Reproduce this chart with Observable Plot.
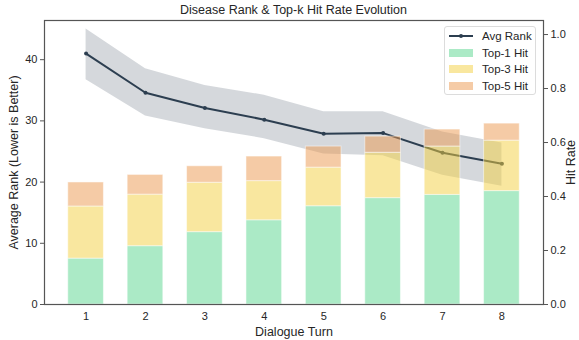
<!DOCTYPE html>
<html>
<head>
<meta charset="utf-8">
<script src="https://cdn.jsdelivr.net/npm/d3@7"></script>
<script src="https://cdn.jsdelivr.net/npm/@observablehq/plot@0.6"></script>
<style>
  html, body { margin: 0; padding: 0; background: #fff; }
  #wrap { position: relative; width: 579px; height: 340px; font-family: "Liberation Sans", Arial, sans-serif; color: #262626; }
  #title { position: absolute; left: 44px; width: 499px; top: 3px; text-align: center; font-size: 12.5px; }
  #legend { position: absolute; left: 444px; top: 26px; width: 92px; height: 69px; border: 1px solid #dcdcdc; border-radius: 3px; background: rgba(255,255,255,0.85); box-sizing: border-box; }
  .item { position: absolute; left: 4px; height: 16px; display: flex; align-items: center; font-size: 11.5px; }
  .sw { width: 24px; height: 8px; margin-right: 9px; }
</style>
</head>
<body>
<div id="wrap">
  <div id="chart"></div>
  <div id="title">Disease Rank &amp; Top-k Hit Rate Evolution</div>
  <div id="legend"></div>
</div>
<script>
const turns = [1, 2, 3, 4, 5, 6, 7, 8];
const avgRank = [41.0, 34.6, 32.1, 30.2, 27.9, 28.0, 24.8, 23.0];
const rankUpper = [45.0, 38.5, 35.8, 34.2, 31.5, 31.5, 28.2, 26.4];
const rankLower = [36.7, 30.8, 28.7, 27.1, 24.6, 24.3, 21.1, 19.3];
const top1 = [0.170, 0.216, 0.268, 0.312, 0.364, 0.394, 0.406, 0.420];
const top3 = [0.363, 0.407, 0.451, 0.457, 0.507, 0.562, 0.585, 0.607];
const top5 = [0.452, 0.480, 0.512, 0.548, 0.585, 0.622, 0.648, 0.670];
const rankTicks = [0, 10, 20, 30, 40];
const rateTicks = [0, 0.2, 0.4, 0.6, 0.8, 1.0];
const seriesNames = ["Top-1 Hit", "Top-3 Hit", "Top-5 Hit"];
const seriesColors = ["#58d68d", "#f4d03f", "#eb984e"];
const lineColor = "#2c3e50";

const rankMax = 46.4, rateMax = 1.052;
const k = rankMax / rateMax;

const lineData = turns.map((t, i) => ({turn: t, rank: avgRank[i], hi: rankUpper[i], lo: rankLower[i]}));
const barData = [];
turns.forEach((t, i) => {
  const vals = [top1[i], top3[i], top5[i]];
  vals.forEach((v, j) => {
    barData.push({turn: t, series: seriesNames[j], lo: j === 0 ? 0 : vals[j - 1], hi: v, color: seriesColors[j]});
  });
});

const plot = Plot.plot({
  width: 579,
  height: 340,
  marginLeft: 44,
  marginRight: 36,
  marginTop: 20,
  marginBottom: 36,
  style: {fontFamily: "Liberation Sans, Arial, sans-serif", fontSize: "11px", color: "#262626", background: "white"},
  x: {type: "linear", domain: [0.3, 8.7]},
  y: {domain: [0, rankMax]},
  marks: [
    Plot.areaY(lineData, {x: "turn", y1: "lo", y2: "hi", fill: lineColor, fillOpacity: 0.2}),
    Plot.line(lineData, {x: "turn", y: "rank", stroke: lineColor, strokeWidth: 2}),
    Plot.dot(lineData, {x: "turn", y: "rank", r: 2, fill: lineColor, stroke: "none"}),
    Plot.rect(barData, {
      x1: d => d.turn - 0.3, x2: d => d.turn + 0.3,
      y1: d => d.lo * k, y2: d => d.hi * k,
      fill: d => d.color, fillOpacity: 0.5,
      stroke: "white", strokeOpacity: 0.5, strokeWidth: 1
    }),
    Plot.frame({stroke: "#555", strokeWidth: 1.2}),
    Plot.axisY({ticks: rankTicks, tickSize: 4, tickPadding: 3, stroke: "#555",
      label: "Average Rank (Lower is Better)", labelAnchor: "center", labelArrow: "none", labelOffset: 35}),
    Plot.axisY({anchor: "right", ticks: rateTicks.map(t => t * k), tickFormat: d => (d / k).toFixed(1),
      tickSize: 4, tickPadding: 3, stroke: "#555",
      label: "Hit Rate", labelAnchor: "center", labelArrow: "none", labelOffset: 31}),
    Plot.axisX({ticks: turns, tickSize: 0, tickPadding: 8, tickFormat: d => String(d),
      label: "Dialogue Turn", labelAnchor: "center", labelArrow: "none", labelOffset: 31})
  ]
});
document.getElementById("chart").appendChild(plot);
d3.select(plot).selectAll('[aria-label$="axis label"] text').style("font-size", "12.5px");

// legend
const legend = document.getElementById("legend");
const items = [{name: "Avg Rank", type: "line"}].concat(seriesNames.map((n, i) => ({name: n, type: "patch", color: seriesColors[i]})));
items.forEach((it, i) => {
  const div = document.createElement("div");
  div.className = "item";
  div.style.top = (1 + i * 16.7) + "px";
  let sw;
  if (it.type === "line") {
    sw = `<svg width="24" height="8" style="margin-right:9px"><line x1="0" x2="24" y1="4" y2="4" stroke="${lineColor}" stroke-width="2"/><circle cx="12" cy="4" r="2" fill="${lineColor}"/></svg>`;
  } else {
    sw = `<div class="sw" style="background:${it.color};opacity:0.5"></div>`;
  }
  div.innerHTML = sw + `<span>${it.name}</span>`;
  legend.appendChild(div);
});
</script>
</body>
</html>
